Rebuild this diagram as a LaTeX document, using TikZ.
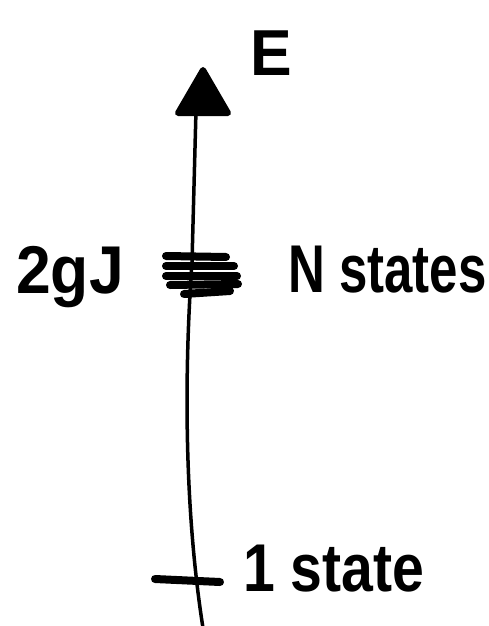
\documentclass[tikz,border=0pt]{standalone}
\usepackage{fontspec}
\usepackage{graphicx}
\setmainfont{Liberation Sans}
\begin{document}
\begin{tikzpicture}[x=1pt,y=-1pt,
  lbl/.style={anchor=base west,inner sep=0pt,font=\fontsize{52}{60}\selectfont\bfseries},
  axisline/.style={line width=3.5pt,line cap=round},
  levelmark/.style={line width=8pt,line cap=round},
  tip/.style={fill=black,draw=black,line width=6pt,line join=round}]
\useasboundingbox (0,0) rectangle (489,626);
\coordinate (bot) at (203,628);
\coordinate (mid) at (192,262);
\coordinate (top) at (196,110);
\draw[axisline] (bot) .. controls (186,520) and (183,390) .. (mid) -- (top);
\draw[tip] (203,70) -- (178,113) -- (228,113) -- cycle;
% N levels
\draw[levelmark] (166,256) -- (226,257);
\draw[levelmark] (166,266) -- (234,266);
\draw[levelmark] (166,276) -- (237,276);
\draw[levelmark] (170,285) -- (238,284);
\draw[levelmark] (184,294) -- (230,291);
% single level
\draw[levelmark] (155,579) -- (220,582);
\node[lbl] (E) at (250,75) {\scalebox{1.2}[1.25]{E}};
\node[lbl] (J) at (16,293) {\scalebox{1.2}[1.3]{2gJ}};
\node[lbl] (N) at (288,292) {\scalebox{0.98}[1.3]{N states}};
\node[lbl] (one) at (243,591) {\scalebox{1.1}[1.3]{1 state}};
\end{tikzpicture}
\end{document}
